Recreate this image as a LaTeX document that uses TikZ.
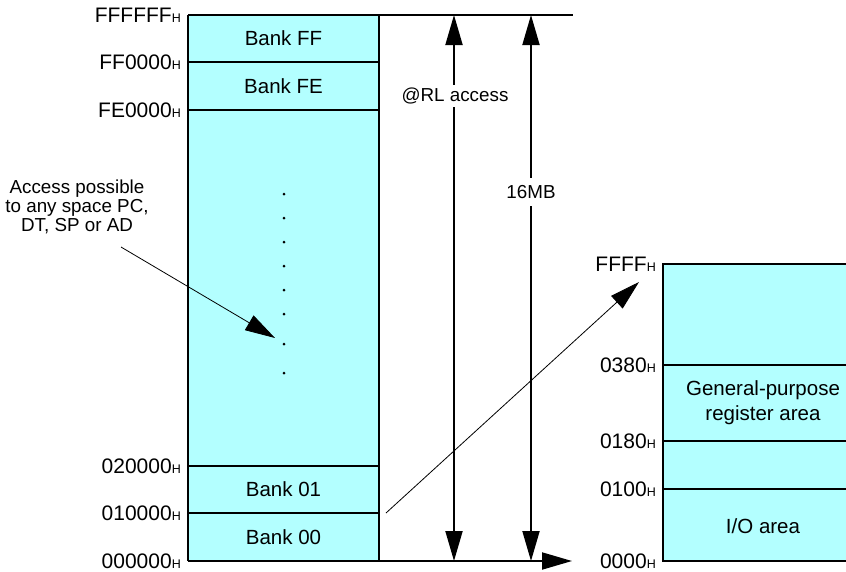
\documentclass[tikz,border=0pt]{standalone}
\usepackage{fontspec}
\setmainfont{Liberation Sans}
\usetikzlibrary{arrows.meta}
\definecolor{bankcyan}{RGB}{179,255,255}
\newcommand{\hexaddr}[1]{#1{\fontsize{12.5}{13}\selectfont H}}

\begin{document}
\begin{tikzpicture}[x=1pt, y=-1pt,
    every node/.style={font=\fontsize{20.5}{25}\selectfont},
    addr/.style={anchor=east, inner sep=0pt, xshift=-7pt, font=\fontsize{21}{22}\selectfont},
    note/.style={font=\fontsize{18.8}{19}\selectfont, align=center},
    bold/.style={line width=1.9pt},
    bigtip/.style={-{Triangle[length=30pt,width=17pt]}},
    bigtips/.style={{Triangle[length=30pt,width=17pt]}-{Triangle[length=30pt,width=17pt]}}]
  \useasboundingbox (0,0) rectangle (846,571);

  % 16MB space
  \coordinate (TL) at (188,15);
  \coordinate (TR) at (379,15);
  \coordinate (BL) at (188,561);
  \coordinate (BR) at (379,561);
  \coordinate (FFL) at (188,62);   \coordinate (FFR) at (379,62);
  \coordinate (FEL) at (188,110);  \coordinate (FER) at (379,110);
  \coordinate (B02L) at (188,466); \coordinate (B02R) at (379,466);
  \coordinate (B01L) at (188,513); \coordinate (B01R) at (379,513);
  \coordinate (TopEnd) at (573,15);
  \coordinate (AxisEnd) at (572,561);

  \fill[bankcyan] (TL) rectangle (BR);
  \draw[bold] (TL)--(TopEnd) (TR)--(BR) (BL)--(TL);
  \draw[bold] (BL)--(BR) (FFL)--(FFR) (FEL)--(FER) (B02L)--(B02R) (B01L)--(B01R);
  \draw[bold, bigtip] (BR)--(AxisEnd);

  \node at (283.5,38.5) {Bank FF};
  \node at (283.5,86)   {Bank FE};
  \node at (283.5,489.5){Bank 01};
  \node at (283.5,537)  {Bank 00};
  \foreach \y in {194,218,242,266,290,314,344,373}
    \fill (284,\y) circle (1.5pt);

  \node[addr] at (TL)   {\hexaddr{FFFFFF}};
  \node[addr] at (FFL)  {\hexaddr{FF0000}};
  \node[addr] at (FEL)  {\hexaddr{FE0000}};
  \node[addr] at (B02L) {\hexaddr{020000}};
  \node[addr] at (B01L) {\hexaddr{010000}};
  \node[addr] at (BL)   {\hexaddr{000000}};

  % range arrows
  \coordinate (RLtop) at (454,15);  \coordinate (RLbot) at (454,561);
  \coordinate (MBtop) at (531,15);  \coordinate (MBbot) at (531,561);
  \draw[bold, bigtips] (RLtop)--(RLbot);
  \draw[bold, bigtips] (MBtop)--(MBbot);
  \node[note, fill=white, inner xsep=1pt, inner ysep=3pt] (rl) at (455,96) {@RL access};
  \node[note, fill=white, inner xsep=1pt, inner ysep=7pt] (mb) at (531,192) {16MB};

  \node[note] (acc) at (77,207) {Access possible\\to any space PC,\\DT, SP or AD};
  \coordinate (AccFrom) at (121,247);
  \coordinate (AccTo) at (275,338);
  \draw[line width=0.8pt, bigtip] (AccFrom)--(AccTo);

  % bank 00 detail
  \coordinate (RTL) at (663,264);
  \coordinate (RBL) at (663,561);
  \coordinate (R380) at (663,365);
  \coordinate (R180) at (663,441);
  \coordinate (R100) at (663,489);
  \fill[bankcyan] (RTL) rectangle (846,561);
  \draw[bold] (846,264)--(RTL)--(RBL)--(846,561);
  \draw[bold] (R380)--(846,365) (R180)--(846,441) (R100)--(846,489);

  \node[align=center] at (763,403) {General-purpose\\register area};
  \node at (763,526) {I/O area};

  \node[addr] at (RTL)  {\hexaddr{FFFF}};
  \node[addr] at (R380) {\hexaddr{0380}};
  \node[addr] at (R180) {\hexaddr{0180}};
  \node[addr] at (R100) {\hexaddr{0100}};
  \node[addr] at (RBL)  {\hexaddr{0000}};

  \coordinate (ZoomFrom) at (386,513);
  \coordinate (ZoomTo) at (639,282);
  \draw[line width=0.8pt, bigtip] (ZoomFrom)--(ZoomTo);
\end{tikzpicture}
\end{document}
